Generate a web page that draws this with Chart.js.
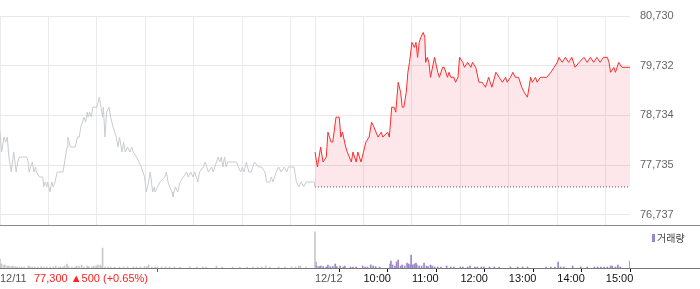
<!DOCTYPE html>
<html>
<head>
<meta charset="utf-8">
<script src="https://cdn.jsdelivr.net/npm/chart.js@4.4.1/dist/chart.umd.min.js"></script>
<style>
  body { margin: 0; background: #fff; }
  #wrap { position: relative; width: 700px; height: 289px; }
  #priceChart { position: absolute; left: 0; top: 0; }
  #volumeChart { position: absolute; left: 0; top: 226px; }
</style>
</head>
<body>
<div id="wrap">
  <canvas id="priceChart" width="700" height="226"></canvas>
  <canvas id="volumeChart" width="700" height="63"></canvas>
</div>
<script>
// 12/11 (previous day) price, minute samples
const prevTimes = ['09:00','09:02','09:05','09:07','09:09','09:11','09:13','09:14','09:17','09:20','09:22','09:24','09:33','09:35','09:36','09:40','09:42','09:44','09:45','09:49','09:53','09:54','09:56','09:58','09:59','10:02','10:04','10:06','10:08','10:11','10:18','10:20','10:23','10:24','10:27','10:33','10:36','10:38','10:40','10:42','10:44','10:46','10:48','10:49','10:51','10:53','10:55','11:00','11:03','11:05','11:07','11:08','11:10','11:12','11:15','11:17','11:20','11:22','11:24','11:26','11:28','11:31','11:33','11:35','11:38','11:41','11:43','11:45','11:49','11:52','11:55','11:59','12:01','12:04','12:06','12:09','12:11','12:12','12:18','12:24','12:26','12:28','12:30','12:33','12:34','12:37','12:40','12:43','12:47','12:51','12:53','12:56','12:59','13:01','13:05','13:07','13:12','13:14','13:16','13:18','13:22','13:24','13:28','13:30','13:32','13:34','13:36','13:38','13:40','13:42','13:53','13:55','13:58','14:00','14:02','14:05','14:08','14:11','14:15','14:20','14:24','14:28','14:30','14:34','14:36','14:38','14:42','14:45','14:48','14:52','14:55','14:57','15:01','15:04','15:07','15:10','15:13','15:16','15:19','15:29','15:30'];
const prevPrices = [78400,78000,78300,78200,78300,77900,77700,77600,78000,77600,77800,77900,77900,77800,77600,77800,77600,77700,77600,77500,77500,77300,77400,77300,77400,77200,77400,77300,77400,77600,77600,77800,78100,78300,78100,78100,78300,78300,78500,78600,78700,78600,78800,78700,78800,78700,78900,78900,79100,78900,78700,78900,78300,78800,78900,78700,78500,78400,78300,78100,78300,78000,78200,78000,78100,78000,78100,78000,77900,77800,77700,77500,77200,77400,77600,77200,77300,77200,77400,77500,77600,77400,77300,77200,77100,77300,77200,77400,77500,77600,77500,77600,77500,77600,77400,77600,77700,77800,77700,77600,77700,77600,77800,77900,77800,77900,77700,77900,77700,77800,77800,77700,77600,77700,77600,77800,77600,77600,77800,77700,77700,77600,77400,77400,77500,77400,77600,77700,77600,77700,77600,77700,77700,77700,77400,77300,77400,77300,77400,77400,77300];

// 12/12 (today) price
const todayTimes = ['09:00','09:03','09:07','09:10','09:14','09:16','09:20','09:22','09:26','09:28','09:30','09:32','09:34','09:38','09:40','09:45','09:47','09:51','09:53','09:57','10:00','10:03','10:07','10:10','10:13','10:18','10:22','10:24','10:30','10:32','10:35','10:38','10:40','10:43','10:46','10:48','10:50','10:53','10:55','10:57','11:00','11:03','11:05','11:07','11:09','11:11','11:14','11:16','11:17','11:19','11:21','11:23','11:28','11:32','11:34','11:38','11:40','11:44','11:46','11:48','11:52','11:54','11:57','11:59','12:03','12:05','12:09','12:13','12:15','12:19','12:23','12:27','12:31','12:35','12:39','12:44','12:48','12:52','12:56','12:58','13:02','13:05','13:08','13:12','13:16','13:19','13:23','13:27','13:29','13:33','13:35','13:39','13:43','13:47','13:52','13:56','14:00','14:02','14:06','14:10','14:14','14:18','14:22','14:27','14:33','14:37','14:41','14:45','14:49','14:53','14:57','15:02','15:04','15:06','15:10','15:12','15:14','15:16','15:20','15:28','15:30'];
const todayPrices = [78000,77700,78100,77800,77900,78400,78200,78200,78700,78700,78700,78300,78400,78100,78000,77800,78000,77800,78000,77800,78000,78200,78300,78600,78500,78300,78400,78300,78400,78300,78900,78900,78800,79400,79200,78900,78900,79200,79600,79800,80200,80100,80200,79900,80200,80300,80400,80300,79800,79900,79800,79500,79900,79600,79500,79700,79700,79500,79600,79500,79500,79400,79500,79900,79800,79700,79800,79700,79800,79700,79400,79400,79300,79500,79300,79600,79500,79400,79500,79400,79500,79600,79500,79500,79300,79200,79100,79500,79400,79500,79400,79500,79500,79500,79600,79700,79800,79900,79800,79900,79800,79900,79700,79800,79900,79800,79900,79800,79900,79800,79900,79900,79800,79600,79700,79600,79700,79800,79700,79700,79700];

// volume (thousand shares)
const prevVolTimes = ['09:00','09:01','09:02','09:05','09:06','09:09','09:11','09:14','09:16','09:19','09:21','09:24','09:27','09:30','09:35','09:37','09:40','09:43','09:47','09:51','09:54','09:58','10:02','10:06','10:09','10:13','10:15','10:18','10:20','10:23','10:25','10:29','10:33','10:35','10:38','10:41','10:44','10:48','10:50','10:54','10:56','10:59','11:01','11:04','11:05','11:07','11:10','11:14','11:17','11:22','11:28','11:33','11:38','11:45','11:49','11:54','11:59','12:02','12:04','12:08','12:12','12:15','12:20','12:25','12:30','12:36','12:43','12:55','13:04','13:11','13:15','13:28','13:35','13:48','13:57','14:06','14:13','14:19','14:24','14:29','14:34','14:45','14:53','15:01','15:06','15:10','15:12','15:19','15:30'];
const prevVolumes = [95,42,42,32,32,21,21,15,21,15,11,11,11,11,21,15,11,11,11,15,11,11,11,11,21,11,11,11,21,42,15,11,11,21,15,32,11,21,15,11,21,21,32,32,21,210,11,11,11,11,11,11,11,11,11,11,15,15,32,11,11,11,11,11,11,11,11,11,11,11,11,21,11,11,11,11,11,11,11,21,11,11,11,11,11,21,21,11,380];
const todayVolTimes = ['09:01','09:02','09:05','09:07','09:10','09:14','09:16','09:19','09:22','09:25','09:27','09:31','09:35','09:37','09:44','09:47','09:51','09:59','10:02','10:05','10:09','10:12','10:15','10:20','10:33','10:34','10:36','10:39','10:41','10:43','10:46','10:48','10:51','10:54','10:56','10:58','10:59','11:01','11:03','11:05','11:06','11:09','11:12','11:15','11:18','11:20','11:23','11:25','11:28','11:32','11:36','11:43','11:48','11:52','12:00','12:03','12:09','12:12','12:18','12:21','12:26','12:29','12:36','12:42','12:48','13:02','13:11','13:17','13:23','13:46','13:52','13:57','14:01','14:04','14:08','14:19','14:29','14:37','14:46','14:50','14:54','14:58','15:02','15:06','15:08','15:12','15:15','15:18','15:30'];
const todayVolumes = [63,21,15,21,15,11,32,15,15,42,15,21,11,21,11,11,11,21,11,11,32,21,15,11,42,74,32,21,63,84,21,32,21,53,42,32,137,32,42,53,32,21,21,53,21,15,32,21,11,11,11,21,11,11,11,11,11,21,11,11,11,11,11,11,11,11,11,11,11,11,11,11,63,11,11,21,11,11,11,11,11,11,11,21,21,11,32,11,74];

const prevClose = 77300;
const prevChange = 500;
const prevChangePct = 0.65;

const yTickValues = [76737, 77735, 78734, 79732, 80730];
const hourLabels = ['09:00','10:00','11:00','12:00','13:00','14:00','15:00'];
const xLabelDays = ['12/11', '12/12'];

const yMin = 76536;
const yMax = 80730;
const volMax = 400;

function toMin(t, day) {
    const [h, m] = t.split(':').map(Number);
    return day * 390 + (h - 9) * 60 + m;
}
function toPoints(times, values, day) {
    return times.map((t, i) => ({ x: toMin(t, day), y: values[i] }));
}
// keep the plot area at the layout box, no extra room for half labels
function noPadding(s) {
    s.paddingTop = 0;
    s.paddingBottom = 0;
    s.paddingLeft = 0;
    s.paddingRight = 0;
}

Chart.defaults.font.family = '"Liberation Sans", Arial, sans-serif';
Chart.defaults.animation = false;

// gridlines: every hour of both days
const gridMinutes = hourLabels.map(h => toMin(h, 0)).concat(hourLabels.map(h => toMin(h, 1)));

// axis labels: day marks at 09:00, hours for today
const labelTicks = [
    { value: toMin('09:00', 0), label: xLabelDays[0] },
    { value: toMin('09:00', 1), label: xLabelDays[1] }
].concat(hourLabels.slice(1).map(h => ({ value: toMin(h, 1), label: h })));

const separatorLine = {
    id: 'separatorLine',
    afterDraw(chart) {
        const ctx = chart.ctx;
        ctx.save();
        ctx.strokeStyle = '#8a8a8a';
        ctx.lineWidth = 1;
        ctx.beginPath();
        ctx.moveTo(0, chart.chartArea.bottom + 0.5);
        ctx.lineTo(chart.width, chart.chartArea.bottom + 0.5);
        ctx.stroke();
        ctx.restore();
    }
};

// Price chart
new Chart(document.getElementById('priceChart').getContext('2d'), {
    type: 'line',
    data: {
        datasets: [
            {
                label: '12/11',
                data: toPoints(prevTimes, prevPrices, 0),
                borderColor: '#c9cbd0',
                borderWidth: 1,
                pointRadius: 0,
                fill: false
            },
            {
                label: '12/12',
                data: toPoints(todayTimes, todayPrices, 1),
                borderColor: '#ff2b2b',
                borderWidth: 1,
                pointRadius: 0,
                fill: { value: prevClose },
                backgroundColor: 'rgba(250, 60, 80, 0.12)'
            },
            {
                label: 'prevClose',
                data: [{ x: toMin('09:00', 1), y: prevClose }, { x: toMin('15:30', 1), y: prevClose }],
                borderColor: '#555',
                borderWidth: 1,
                borderDash: [1, 2],
                pointRadius: 0,
                fill: false
            }
        ]
    },
    options: {
        responsive: false,
        layout: { padding: { top: 16, bottom: 1, left: 0, right: 0 } },
        plugins: {
            legend: { display: false },
            tooltip: { enabled: false }
        },
        scales: {
            x: {
                type: 'linear',
                min: 0,
                max: 780,
                afterBuildTicks: s => { s.ticks = gridMinutes.map(v => ({ value: v })); },
                afterFit: s => { s.height = 0; noPadding(s); },
                ticks: { display: false },
                grid: { color: '#ebebeb', drawTicks: false },
                border: { display: false }
            },
            y: {
                position: 'right',
                min: yMin,
                max: yMax,
                afterBuildTicks: s => { s.ticks = yTickValues.map(v => ({ value: v })); },
                afterFit: s => { s.width = 70; noPadding(s); },
                ticks: {
                    color: '#666',
                    font: { size: 11 },
                    padding: 10,
                    callback: v => v.toLocaleString('en-US')
                },
                grid: { color: '#e8e8e8', drawTicks: false },
                border: { display: false }
            }
        }
    },
    plugins: [separatorLine]
});

// Volume chart extras: full-width axis line, change text, legend
const volumeExtras = {
    id: 'volumeExtras',
    afterDraw(chart) {
        const ctx = chart.ctx;
        const area = chart.chartArea;
        ctx.save();
        ctx.strokeStyle = '#777';
        ctx.lineWidth = 1;
        ctx.beginPath();
        ctx.moveTo(0, area.bottom + 0.5);
        ctx.lineTo(chart.width, area.bottom + 0.5);
        ctx.stroke();

        ctx.font = '11px "Liberation Sans", Arial, sans-serif';
        ctx.fillStyle = '#ff2020';
        ctx.textBaseline = 'middle';
        ctx.textAlign = 'left';
        const txt = prevClose.toLocaleString('en-US') + ' \u25B2' + prevChange + ' (+' + prevChangePct.toFixed(2) + '%)';
        ctx.fillText(txt, 34, area.bottom + 10.5);

        ctx.fillStyle = '#9a87c9';
        ctx.fillRect(652, 8, 3, 8);
        ctx.fillStyle = '#444';
        ctx.font = '10px "Noto Sans CJK KR", sans-serif';
        ctx.fillText('거래량', 657, 12);
        ctx.restore();
    }
};

new Chart(document.getElementById('volumeChart').getContext('2d'), {
    type: 'bar',
    data: {
        datasets: [
            {
                label: '12/11',
                data: toPoints(prevVolTimes, prevVolumes, 0),
                backgroundColor: '#c8c8c8',
                barThickness: 1,
                grouped: false
            },
            {
                label: '거래량',
                data: toPoints(todayVolTimes, todayVolumes, 1),
                backgroundColor: '#9a87c9',
                barThickness: 1,
                grouped: false
            }
        ]
    },
    options: {
        responsive: false,
        layout: { padding: { top: 4, right: 70, left: 0, bottom: 0 } },
        plugins: {
            legend: { display: false },
            tooltip: { enabled: false }
        },
        scales: {
            x: {
                type: 'linear',
                min: 0,
                max: 780,
                offset: false,
                afterBuildTicks: s => { s.ticks = labelTicks.map(t => ({ value: t.value })); },
                afterFit: s => { s.height = 21; noPadding(s); },
                ticks: {
                    autoSkip: false,
                    maxRotation: 0,
                    align: 'start',
                    padding: 0,
                    font: { size: 11 },
                    color: c => (c.index < 2 ? '#555' : '#111'),
                    callback: (v, i) => labelTicks[i].label
                },
                grid: {
                    drawOnChartArea: false,
                    drawTicks: true,
                    tickLength: 4,
                    tickColor: c => (c.index < 2 ? '#666' : '#111')
                },
                border: { display: false }
            },
            y: {
                display: false,
                min: 0,
                max: volMax
            }
        }
    },
    plugins: [volumeExtras]
});
</script>
</body>
</html>
